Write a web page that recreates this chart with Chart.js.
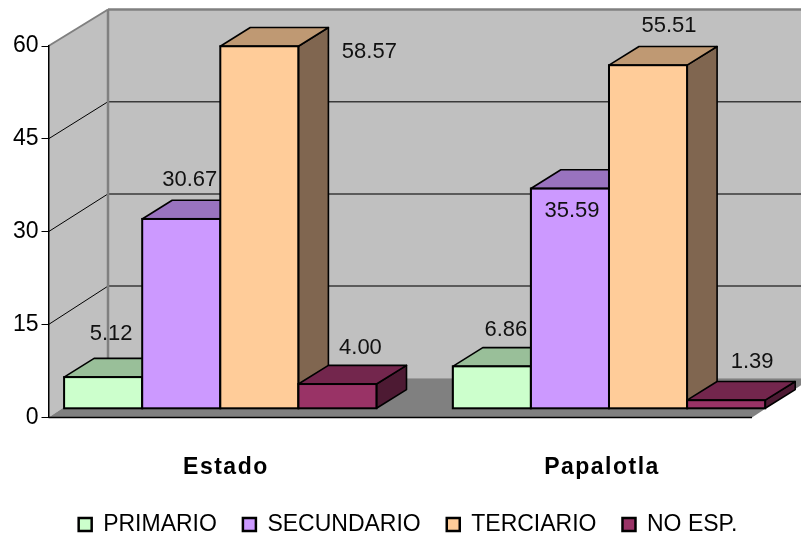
<!DOCTYPE html>
<html><head><meta charset="utf-8">
<style>html,body{margin:0;padding:0;background:#fff}#wrap{position:relative;width:801px;height:537px}</style>
<script src="https://cdn.jsdelivr.net/npm/chart.js@4"></script>
</head><body><div id="wrap"><canvas id="c" width="801" height="537"></canvas></div>
<script>
const categories = ['Estado', 'Papalotla'];
const seriesNames = ['PRIMARIO', 'SECUNDARIO', 'TERCIARIO', 'NO ESP.'];
const primario = [5.12, 6.86];
const secundario = [30.67, 35.59];
const terciario = [58.57, 55.51];
const noEsp = [4.00, 1.39];
const yTicks = [0, 15, 30, 45, 60];

const seriesValues = [primario, secundario, terciario, noEsp];
const seriesColors = ['#CCFFCC', '#CC99FF', '#FFCC99', '#993366'];
const topColors = ['#99BF99', '#9973BF', '#BF9973', '#73264D'];
const sideColors = ['#668066', '#664D80', '#806650', '#4D1A33'];
// label offset from the front-top centre of each bar, per series then category
const labelNudge = [
  [[8, -43], [14, -36]],
  [[8.5, -39], [2, 22]],
  [[110, 6], [21, -39]],
  [[23, -36], [26, -38]]
];
const FONT = '"Liberation Sans", Arial, sans-serif';
const WALL = {dx: 59.5, topY: 9.5, botY: 378.3};
const BAR = {ox: 15, oy: -8.6, dx: 30, dy: -18.7};

function poly(ctx, pts, fill, stroke, lw) {
  ctx.beginPath();
  pts.forEach((p, i) => i ? ctx.lineTo(p[0], p[1]) : ctx.moveTo(p[0], p[1]));
  ctx.closePath();
  if (fill) { ctx.fillStyle = fill; ctx.fill(); }
  if (stroke) { ctx.strokeStyle = stroke; ctx.lineWidth = lw; ctx.lineJoin = 'round'; ctx.stroke(); }
}
function line(ctx, x1, y1, x2, y2, c, lw) {
  ctx.beginPath(); ctx.moveTo(x1, y1); ctx.lineTo(x2, y2);
  ctx.strokeStyle = c; ctx.lineWidth = lw; ctx.stroke();
}

const box3d = {
  id: 'box3d',
  afterLayout(chart) {
    chart.legend.left += 32; chart.legend.right += 32;
    chart.legend.top += 9; chart.legend.bottom += 9;
    const xs = chart.scales.x, c = chart.ctx, draw = xs.drawLabels;
    xs.bottom += 12;
    xs.drawLabels = function (area) {
      c.save();
      c.letterSpacing = '1.5px';
      draw.call(this, area);
      c.restore();
    };
  },
  beforeDraw(chart) {
    const ctx = chart.ctx, a = chart.chartArea, y = chart.scales.y;
    const y60 = y.getPixelForValue(60), y0 = y.getPixelForValue(0);
    const back = py => WALL.topY + (py - y60) * (WALL.botY - WALL.topY) / (y0 - y60);
    const L = a.left, R = a.right, d = WALL.dx;
    ctx.save();
    poly(ctx, [[L + d, WALL.topY], [R + d, WALL.topY], [R + d, WALL.botY], [L + d, WALL.botY]], '#C0C0C0');
    poly(ctx, [[L, y60], [L + d, WALL.topY], [L + d, WALL.botY], [L, y0]], '#C0C0C0');
    poly(ctx, [[L, y0], [R, y0], [R + d, WALL.botY], [L + d, WALL.botY]], '#808080');
    yTicks.filter(v => v > 0 && v < 60).forEach(v => {
      const py = y.getPixelForValue(v);
      line(ctx, L, py, L + d, back(py), '#000', 1);
      line(ctx, L + d, back(py), R + d, back(py), '#3a3a3a', 1.5);
    });
    line(ctx, L, y60, L + d, WALL.topY, '#808080', 2);
    line(ctx, L + d, WALL.topY, R + d, WALL.topY, '#808080', 2.5);
    line(ctx, L + d, WALL.topY, L + d, WALL.botY, '#808080', 2.5);
    line(ctx, L, y0, R, y0, '#000', 1.5);
    ctx.restore();
  },
  beforeDatasetsDraw(chart) {
    const ctx = chart.ctx;
    seriesValues.forEach((vals, i) => {
      const meta = chart.getDatasetMeta(i);
      meta.data.forEach(el => {
        const l = el.x - el.width / 2 + BAR.ox, r = el.x + el.width / 2 + BAR.ox;
        const t = el.y + BAR.oy, b = el.base + BAR.oy, dx = BAR.dx, dy = BAR.dy;
        ctx.save();
        poly(ctx, [[r, t], [r + dx, t + dy], [r + dx, b + dy], [r, b]], sideColors[i], '#000', 1.6);
        poly(ctx, [[l, t], [l + dx, t + dy], [r + dx, t + dy], [r, t]], topColors[i], '#000', 1.6);
        ctx.restore();
      });
      ctx.save();
      ctx.translate(BAR.ox, BAR.oy);
      meta.controller.draw();
      ctx.restore();
      meta.data.forEach(el => {
        ctx.save();
        ctx.strokeStyle = '#000'; ctx.lineWidth = 2;
        ctx.strokeRect(el.x - el.width / 2 + BAR.ox, el.y + BAR.oy, el.width, el.base - el.y);
        ctx.restore();
      });
    });
    return false;
  },
  afterDraw(chart) {
    const ctx = chart.ctx;
    ctx.save();
    ctx.font = '22px ' + FONT;
    ctx.fillStyle = '#111';
    ctx.textAlign = 'center';
    ctx.textBaseline = 'middle';
    seriesValues.forEach((vals, i) => {
      chart.getDatasetMeta(i).data.forEach((el, j) => {
        ctx.fillText(vals[j].toFixed(2), el.x + BAR.ox + labelNudge[i][j][0], el.y + BAR.oy + labelNudge[i][j][1]);
      });
    });
    ctx.restore();
  }
};

new Chart(document.getElementById('c'), {
  type: 'bar',
  plugins: [box3d],
  data: {
    datasets: seriesNames.map((name, i) => ({
      label: name,
      data: categories.map((_, j) => ({x: j, y: seriesValues[i][j]})),
      backgroundColor: seriesColors[i],
      borderColor: '#000',
      borderWidth: 1,
      barThickness: 78.1,
      clip: false
    }))
  },
  options: {
    responsive: false,
    animation: false,
    events: [],
    layout: {autoPadding: false, padding: {top: 46, right: 49, left: 0, bottom: 0}},
    scales: {
      x: {
        type: 'linear', offset: false, min: -0.4034, max: 1.4065,
        afterBuildTicks(ax) { ax.ticks = [{value: 0.053}, {value: 1.0206}]; },
        afterFit(ax) { ax.height = 60.6; },
        grid: {display: false, offset: false}, border: {display: false},
        ticks: {
          callback: (v, i) => categories[i],
          padding: 28, maxRotation: 0, autoSkip: false,
          color: '#000', font: {family: FONT, size: 23, weight: 'bold'}
        }
      },
      y: {
        min: 0, max: 60,
        afterFit(ax) { ax.width = 48.5; },
        afterBuildTicks(ax) { ax.ticks = yTicks.map(v => ({value: v})); },
        grid: {drawOnChartArea: false, drawTicks: true, tickLength: 7, color: '#000', lineWidth: 1},
        border: {display: true, color: '#000', width: 1.5},
        ticks: {padding: 3, color: '#000', font: {family: FONT, size: 23}}
      }
    },
    plugins: {
      title: {display: false},
      tooltip: {enabled: false},
      legend: {
        display: true, position: 'bottom',
        labels: {
          boxWidth: 13, boxHeight: 13, padding: 26,
          color: '#000', font: {family: FONT, size: 23},
          generateLabels(chart) {
            return Chart.defaults.plugins.legend.labels.generateLabels(chart)
              .map(l => Object.assign(l, {lineWidth: 2.5, strokeStyle: '#000'}));
          }
        }
      }
    }
  }
});
</script></body></html>
